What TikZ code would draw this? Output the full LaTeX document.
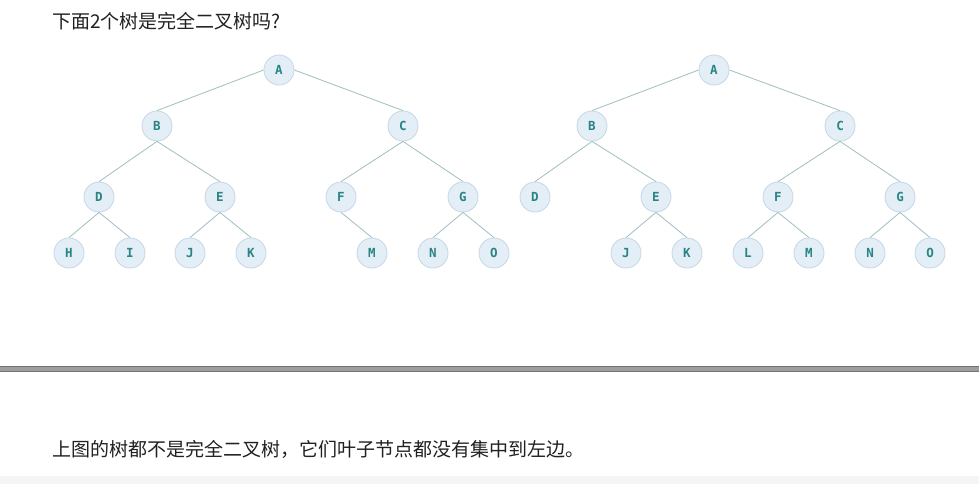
\documentclass[tikz,border=0pt]{standalone}
\usepackage{fontspec}
\newfontfamily\cjk{Noto Sans CJK SC}
\newfontfamily\monof{DejaVu Sans Mono}
\definecolor{nodefill}{HTML}{E4EEF7}
\definecolor{nodeedge}{HTML}{C5D6E6}
\definecolor{nodetext}{HTML}{2A8484}
\definecolor{edgecol}{HTML}{9FBFBF}
\tikzset{
  tn/.style={circle, fill=nodefill, draw=nodeedge, line width=0.8pt, minimum size=30pt, inner sep=0pt, text=nodetext, font=\monof\bfseries\fontsize{12.5}{12.5}\selectfont},
  te/.style={draw=edgecol, line width=0.8pt},
  txt/.style={anchor=west, inner sep=0pt, font=\cjk\fontsize{19}{20}\selectfont, text=black!87}
}
\begin{document}
\begin{tikzpicture}[x=1pt,y=-1pt]
\useasboundingbox (0,0) rectangle (979,484);
\fill[white] (0,0) rectangle (979,484);
\fill[black!4] (0,476) rectangle (979,484);
% separator
\fill[black!38] (0,366) rectangle (979,372);
\draw[black!55, line width=0.8pt] (0,366.4) -- (979,366.4);
\draw[black!55, line width=0.8pt] (0,371.6) -- (979,371.6);
\node[txt] (title) at (52,21) {下面2个树是完全二叉树吗?};
\node[txt] (answer) at (52,449) {上图的树都不是完全二叉树，它们叶子节点都没有集中到左边。};
% tree 1
\node[tn] (a1) at (279,70) {A};
\node[tn] (b1) at (157,126) {B};
\node[tn] (c1) at (403,126) {C};
\node[tn] (d1) at (99,197) {D};
\node[tn] (e1) at (220,197) {E};
\node[tn] (f1) at (341,197) {F};
\node[tn] (g1) at (463,197) {G};
\node[tn] (h1) at (69,253) {H};
\node[tn] (i1) at (130,253) {I};
\node[tn] (j1) at (190,253) {J};
\node[tn] (k1) at (251,253) {K};
\node[tn] (m1) at (372,253) {M};
\node[tn] (n1) at (433,253) {N};
\node[tn] (o1) at (494,253) {O};
\draw[te] (a1.west) -- (b1.north);
\draw[te] (a1.east) -- (c1.north);
\foreach \p/\c in {b1/d1,b1/e1,c1/f1,c1/g1,d1/h1,d1/i1,e1/j1,e1/k1,f1/m1,g1/n1,g1/o1}
  \draw[te] (\p.south) -- (\c.north);
% tree 2
\node[tn] (a2) at (714,70) {A};
\node[tn] (b2) at (592,126) {B};
\node[tn] (c2) at (840,126) {C};
\node[tn] (d2) at (535,197) {D};
\node[tn] (e2) at (656,197) {E};
\node[tn] (f2) at (778,197) {F};
\node[tn] (g2) at (900,197) {G};
\node[tn] (j2) at (626,253) {J};
\node[tn] (k2) at (687,253) {K};
\node[tn] (l2) at (748,253) {L};
\node[tn] (m2) at (809,253) {M};
\node[tn] (n2) at (870,253) {N};
\node[tn] (o2) at (930,253) {O};
\draw[te] (a2.west) -- (b2.north);
\draw[te] (a2.east) -- (c2.north);
\foreach \p/\c in {b2/d2,b2/e2,c2/f2,c2/g2,e2/j2,e2/k2,f2/l2,f2/m2,g2/n2,g2/o2}
  \draw[te] (\p.south) -- (\c.north);
\end{tikzpicture}
\end{document}
